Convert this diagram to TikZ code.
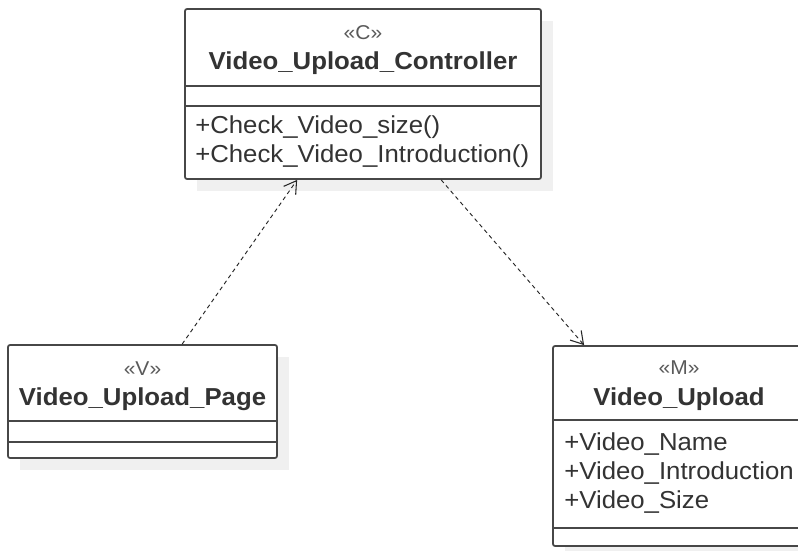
\documentclass[tikz,border=0pt]{standalone}
\usepackage{fontspec}
\setmainfont[FakeStretch=1.05]{Liberation Sans}
\usetikzlibrary{arrows.meta}
\definecolor{boxline}{HTML}{474747}
\definecolor{shadowgray}{HTML}{F0F0F0}
\definecolor{textdark}{HTML}{333333}
\definecolor{stereogray}{HTML}{5A5A5A}
\tikzset{
  umlbox/.style={draw=boxline, line width=1.3pt, rounded corners=1.5pt, fill=white, inner sep=0pt},
  boxshadow/.style={fill=shadowgray, draw=none},
  sepline/.style={draw=boxline, line width=1.3pt},
  stereo/.style={inner sep=0pt, anchor=base, text=stereogray, font=\fontsize{15}{17}\selectfont},
  classname/.style={inner sep=0pt, anchor=base, text=textdark, font=\fontsize{18.4}{21}\selectfont\bfseries},
  member/.style={inner sep=0pt, anchor=base west, text=textdark, font=\fontsize{18.4}{21}\selectfont},
  depend/.style={draw=black!85, line width=0.7pt, dash pattern=on 3pt off 2.5pt,
    -{Straight Barb[length=9pt,width=11pt,line width=0.8pt]}}
}
\begin{document}
\begin{tikzpicture}[x=0.75pt, y=-0.75pt]
  \useasboundingbox (0,0) rectangle (798,550);
  \fill[white] (0,0) rectangle (798,550);
  \clip (0,0) rectangle (798,550);

  % drop shadows
  \fill[boxshadow] (197,21) rectangle (553,191);
  \fill[boxshadow] (20,357) rectangle (289,470);
  \fill[boxshadow] (565,358) rectangle (817,558);

  % controller class
  \node[umlbox, minimum width=267pt, minimum height=127.5pt] (ctrl) at (363,94) {};
  \draw[sepline] (ctrl.west |- 0,86) -- (ctrl.east |- 0,86);
  \draw[sepline] (ctrl.west |- 0,106) -- (ctrl.east |- 0,106);
  \node[stereo] (ctrlst) at (363,39) {«C»};
  \node[classname] (ctrlname) at (363,69) {Video\_Upload\_Controller};
  \node[member] (ctrlm1) at (195,133) {+Check\_Video\_size()};
  \node[member] (ctrlm2) at (195,162) {+Check\_Video\_Introduction()};

  % view class
  \node[umlbox, minimum width=201.75pt, minimum height=84.75pt] (page) at (142.5,401.5) {};
  \draw[sepline] (page.west |- 0,421) -- (page.east |- 0,421);
  \draw[sepline] (page.west |- 0,442) -- (page.east |- 0,442);
  \node[stereo] (pagest) at (142.5,375) {«V»};
  \node[classname] (pagename) at (142.5,405) {Video\_Upload\_Page};

  % model class
  \node[umlbox, minimum width=189pt, minimum height=150pt] (model) at (679,446) {};
  \draw[sepline] (model.west |- 0,420) -- (model.east |- 0,420);
  \draw[sepline] (model.west |- 0,528) -- (model.east |- 0,528);
  \node[stereo] (modelst) at (679,374) {«M»};
  \node[classname] (modelname) at (679,405) {Video\_Upload};
  \node[member] (modela1) at (564,450) {+Video\_Name};
  \node[member] (modela2) at (564,479) {+Video\_Introduction};
  \node[member] (modela3) at (564,508) {+Video\_Size};

  % dependencies
  \draw[depend] ([xshift=131.25pt]page.north west) -- ([xshift=84.75pt]ctrl.south west);
  \draw[depend] ([xshift=192.75pt]ctrl.south west) -- ([xshift=24pt]model.north west);
\end{tikzpicture}
\end{document}
